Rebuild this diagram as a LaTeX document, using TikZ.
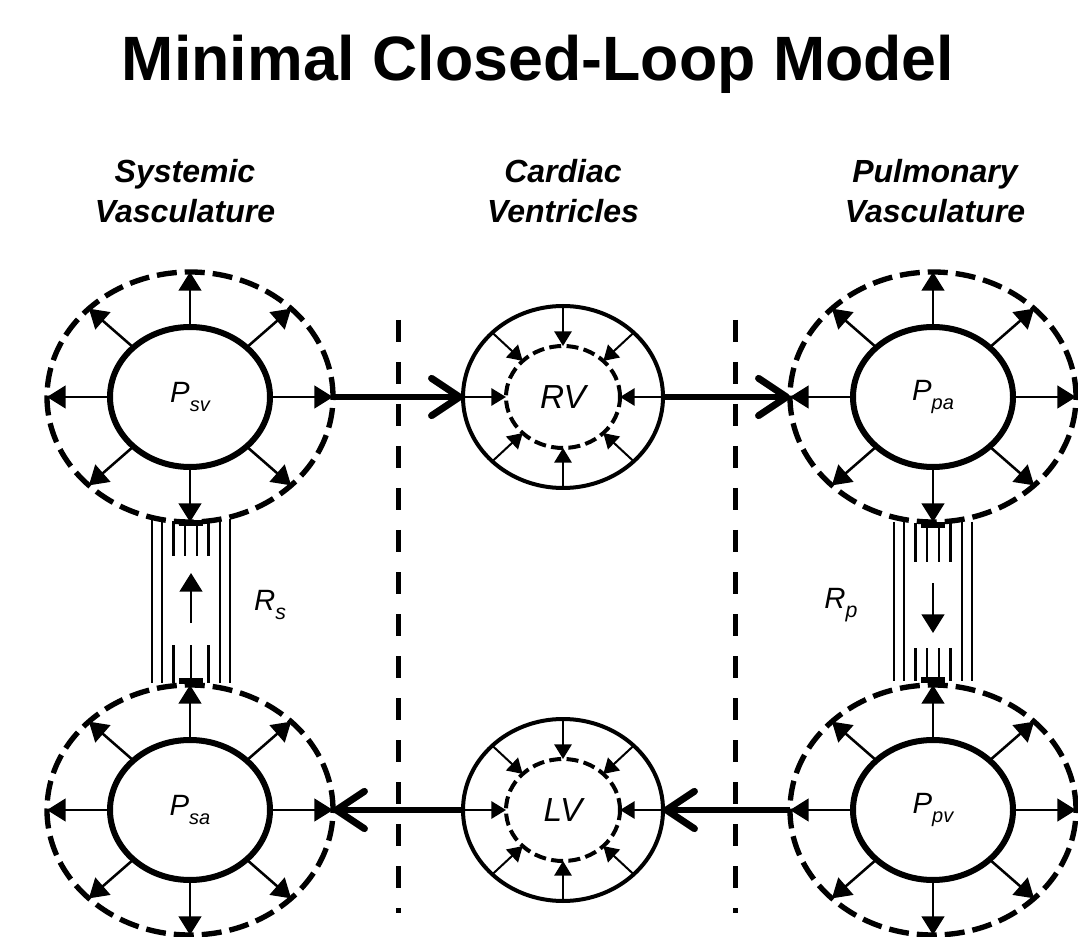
\documentclass[tikz,border=0pt]{standalone}
\usepackage{fontspec}
\setmainfont{Liberation Sans}
\usetikzlibrary{arrows.meta,shapes.geometric}
\newcommand{\presslabel}[1]{P\raisebox{-0.3em}{\fontsize{15}{15}\selectfont #1}}
\newcommand{\reslabel}[1]{R\raisebox{-0.3em}{\fontsize{16}{16}\selectfont #1}}
\tikzset{
    compliance/.style={ellipse, draw, line width=4pt, dash pattern=on 15pt off 6pt,
        minimum width=214.5pt, minimum height=187.5pt, outer sep=0pt},
    pool/.style={ellipse, draw, line width=4.5pt, minimum width=120pt, minimum height=105pt,
        outer sep=0pt, font=\fontsize{22}{22}\selectfont\itshape},
    wall/.style={ellipse, draw, line width=3pt, minimum width=150pt, minimum height=136.5pt,
        outer sep=0pt},
    chamber/.style={ellipse, draw, line width=3pt, dash pattern=on 9pt off 4pt,
        minimum width=85.5pt, minimum height=76.5pt, outer sep=0pt,
        font=\fontsize{25}{25}\selectfont\itshape},
    expand/.style={line width=1.9pt, -{Triangle[length=14pt,width=17pt]}},
    contract/.style={line width=1.5pt, -{Triangle[length=11pt,width=13pt]}},
    flow/.style={line width=5.2pt, -{Straight Barb[length=21pt,width=28pt,round]}},
    divider/.style={line width=3.75pt, dash pattern=on 16.5pt off 15pt},
    tube/.style={line width=2pt},
    header/.style={font=\fontsize{24}{30}\selectfont\bfseries\itshape, align=center,
        anchor=north, inner sep=0pt}
}

\begin{document}
\begin{tikzpicture}[x=0.75pt, y=-0.75pt]
    \useasboundingbox (0,0) rectangle (1078,937);

    % Title
    \node[anchor=base, font=\fontsize{47}{47}\selectfont\bfseries] (title) at (538,81) {Minimal Closed-Loop Model};

    % Column headers
    \node[header] (syshead) at (185,159) {Systemic\\Vasculature};
    \node[header] (cardhead) at (563,159) {Cardiac\\Ventricles};
    \node[header] (pulhead) at (935,159) {Pulmonary\\Vasculature};

    % Dividers between the columns
    \draw[divider] (398,320) -- (398,913);
    \draw[divider] (735,320) -- (735,913);

    % Systemic compartments
    \node[compliance] (svout) at (190,397) {};
    \node[pool] (sv) at (190,397) {\presslabel{sv}};
    \node[compliance] (saout) at (190,810) {};
    \node[pool] (sa) at (190,810) {\presslabel{sa}};

    % Pulmonary compartments
    \node[compliance] (paout) at (933,397) {};
    \node[pool] (pa) at (933,397) {\presslabel{pa}};
    \node[compliance] (pvout) at (933,810) {};
    \node[pool] (pv) at (933,810) {\presslabel{pv}};

    % Ventricles
    \node[wall] (rvout) at (563,397) {};
    \node[chamber] (rv) at (563,397) {RV};
    \node[wall] (lvout) at (563,810) {};
    \node[chamber] (lv) at (563,810) {LV};

    % Vessels stretch outwards
    \foreach \v in {sv,sa,pa,pv}
        \foreach \a in {north,north east,east,south east,south,south west,west,north west}
            \draw[expand] (\v.\a) -- (\v out.\a);

    % Ventricle walls squeeze inwards
    \foreach \v in {rv,lv}
        \foreach \a in {north,north east,east,south east,south,south west,west,north west}
            \draw[contract] (\v out.\a) -- (\v.\a);

    % Flow round the loop
    \draw[flow] (svout.east) -- (rvout.west);
    \draw[flow] (rvout.east) -- (paout.west);
    \draw[flow] (pvout.west) -- (lvout.east);
    \draw[flow] (lvout.west) -- (saout.east);

    % Systemic resistance
    \begin{scope}[shift={(191,0)}]
        \foreach \dx in {-39,-29,29,39}
            \draw[tube] (\dx,519) -- (\dx,683);
        \foreach \dx in {-17.5,-6,6,17.5}
            \draw[tube] (\dx,521) -- (\dx,556);
        \foreach \dx in {-17.5,0,17.5}
            \draw[tube] (\dx,645) -- (\dx,683);
        \draw[line width=4pt] (-12,523) -- (12,523);
        \draw[line width=4pt] (-12,681) -- (12,681);
        \draw[expand] (0,623) -- (0,573);
    \end{scope}
    \node[font=\fontsize{22}{22}\selectfont\itshape] (rs) at (270,605) {\reslabel{s}};

    % Pulmonary resistance
    \begin{scope}[shift={(933,0)}]
        \foreach \dx in {-39,-29,29,39}
            \draw[tube] (\dx,522) -- (\dx,681);
        \foreach \dx in {-17.5,-6,6,17.5}
            \draw[tube] (\dx,523) -- (\dx,562);
        \foreach \dx in {-17.5,-6,6,17.5}
            \draw[tube] (\dx,648) -- (\dx,681);
        \draw[line width=4pt] (-12,525) -- (12,525);
        \draw[line width=4pt] (-12,680) -- (12,680);
        \draw[expand] (0,583) -- (0,633);
    \end{scope}
    \node[font=\fontsize{22}{22}\selectfont\itshape] (rp) at (841,605) {\reslabel{p}};
\end{tikzpicture}
\end{document}
